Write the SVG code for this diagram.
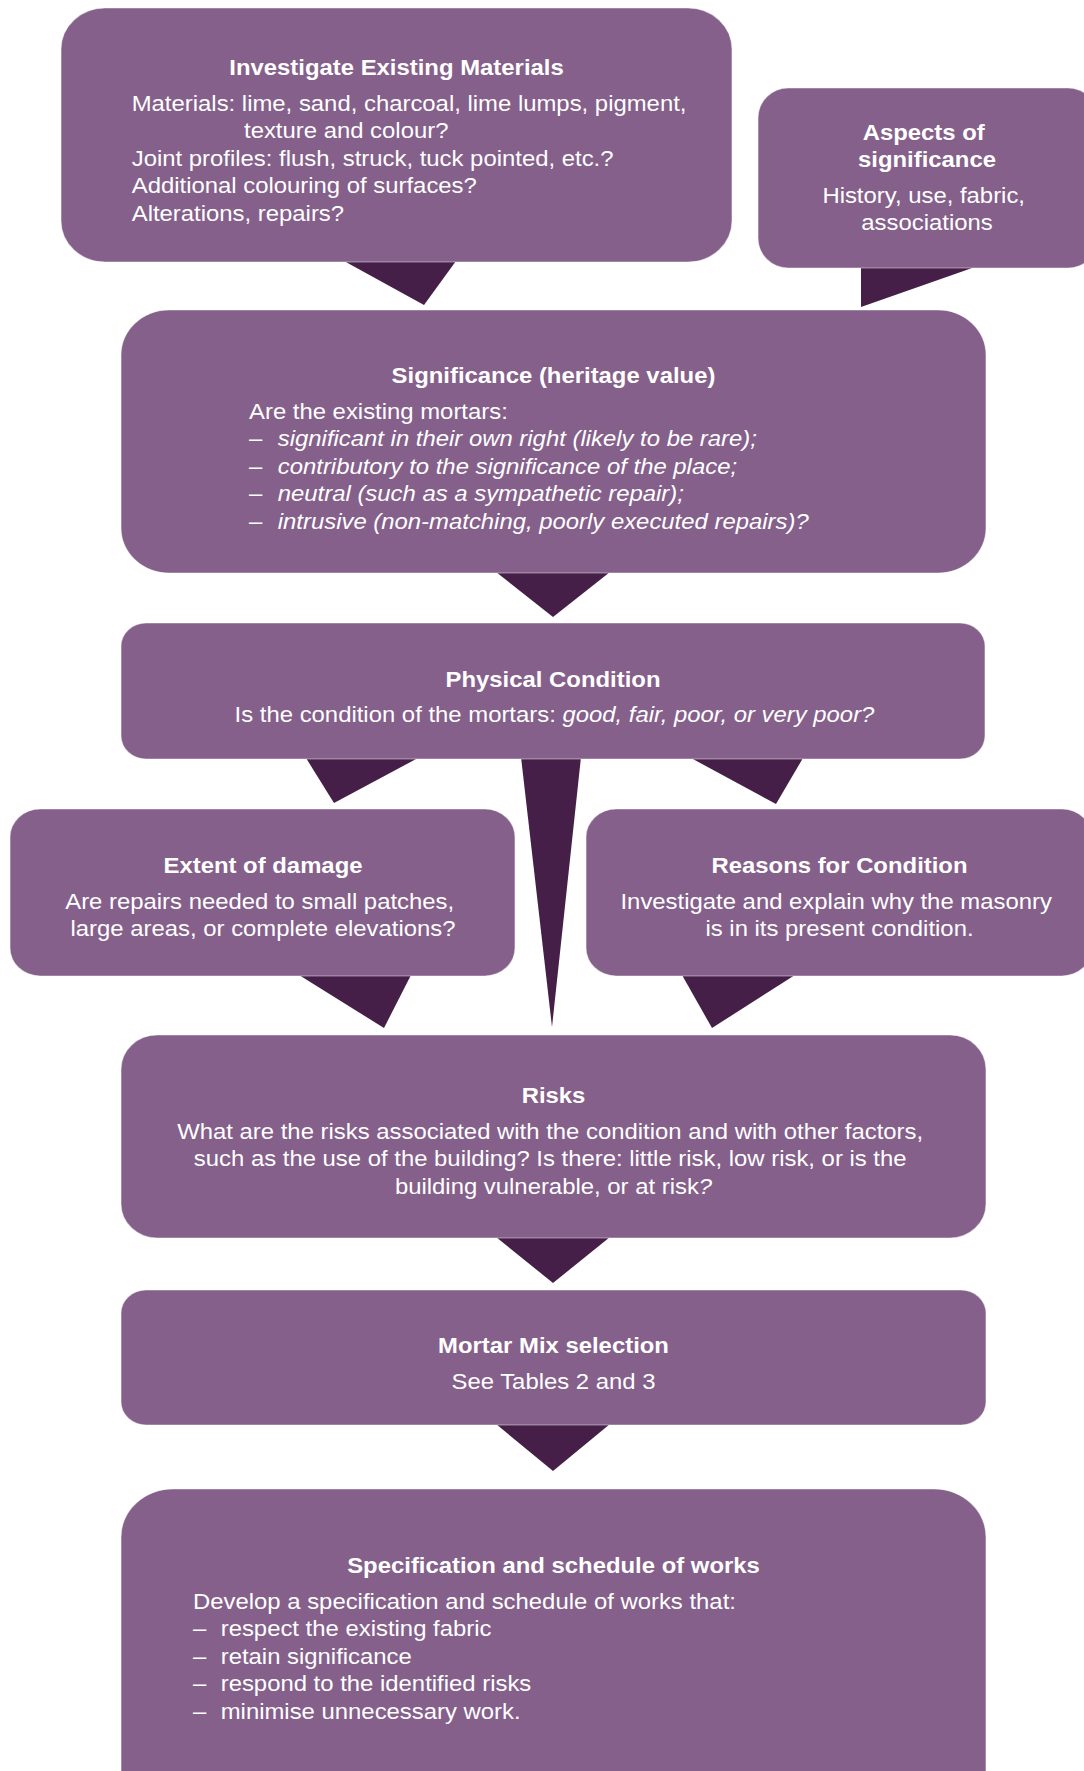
<svg xmlns="http://www.w3.org/2000/svg" width="1084" height="1771" viewBox="0 0 1084 1771">
  <style>
    .box { fill: #85608B; stroke: #ffffff; stroke-opacity: 0.45; stroke-width: 1.2; }
    .ptr { fill: #451F47; }
    text { font-family: "Liberation Sans", Arial, sans-serif; font-size: 22px; fill: #ffffff; }
    .h { font-weight: bold; }
    .c { text-anchor: middle; }
    .i { font-style: italic; }
  </style>
  <rect width="1084" height="1771" fill="#ffffff"/>

  <!-- pointer shapes linking the steps -->
  <g id="connectors">
    <polygon class="ptr" points="344,261 456,261 424,305"/>
    <polygon class="ptr" points="861,267 975,267 861,307"/>
    <polygon class="ptr" points="496,572 610,572 553,617"/>
    <polygon class="ptr" points="306,758 418,758 334,803"/>
    <polygon class="ptr" points="521,757 581,757 552,1027"/>
    <polygon class="ptr" points="691,758 803,758 776,804"/>
    <polygon class="ptr" points="299,975 411,975 384,1028"/>
    <polygon class="ptr" points="682,975 795,975 712,1028"/>
    <polygon class="ptr" points="496,1237 610,1237 553,1283"/>
    <polygon class="ptr" points="496,1424 610,1424 553,1471"/>
  </g>

  <g id="investigate">
    <rect class="box" x="61" y="8" width="671" height="254" rx="44" ry="41"/>
    <text class="h c" transform="translate(396.5,0) scale(1.086,1)"><tspan x="0" y="75.5">Investigate Existing Materials</tspan></text>
    <text transform="translate(131.7,0) scale(1.086,1)">
      <tspan x="0" y="110.7">Materials: lime, sand, charcoal, lime lumps, pigment,</tspan>
      <tspan x="103.4" y="138.2">texture and colour?</tspan>
      <tspan x="0" y="165.7">Joint profiles: flush, struck, tuck pointed, etc.?</tspan>
      <tspan x="0" y="193.2">Additional colouring of surfaces?</tspan>
      <tspan x="0" y="220.7">Alterations, repairs?</tspan>
    </text>
  </g>

  <g id="aspects">
    <rect class="box" x="758" y="88" width="340" height="180" rx="30" ry="30"/>
    <text class="h c" transform="translate(927,0) scale(1.086,1)">
      <tspan x="0" y="140">Aspects of</tspan>
      <tspan x="0" y="167.5">significance</tspan>
    </text>
    <text class="c" transform="translate(927,0) scale(1.086,1)">
      <tspan x="0" y="202.7">History, use, fabric,</tspan>
      <tspan x="0" y="230.2">associations</tspan>
    </text>
  </g>

  <g id="significance">
    <rect class="box" x="121" y="310" width="865" height="263" rx="48" ry="45"/>
    <text class="h c" transform="translate(553.5,0) scale(1.086,1)"><tspan x="0" y="383.5">Significance (heritage value)</tspan></text>
    <text transform="translate(249,0) scale(1.086,1)">
      <tspan x="0" y="418.7">Are the existing mortars:</tspan>
      <tspan x="0" y="446.2">–</tspan><tspan class="i" x="26.5" y="446.2">significant in their own right (likely to be rare);</tspan>
      <tspan x="0" y="473.7">–</tspan><tspan class="i" x="26.5" y="473.7">contributory to the significance of the place;</tspan>
      <tspan x="0" y="501.2">–</tspan><tspan class="i" x="26.5" y="501.2">neutral (such as a sympathetic repair);</tspan>
      <tspan x="0" y="528.7">–</tspan><tspan class="i" x="26.5" y="528.7">intrusive (non-matching, poorly executed repairs)?</tspan>
    </text>
  </g>

  <g id="physical-condition">
    <rect class="box" x="121" y="623" width="864" height="136" rx="25" ry="23"/>
    <text class="h c" transform="translate(553,0) scale(1.086,1)"><tspan x="0" y="687">Physical Condition</tspan></text>
    <text class="c" transform="translate(554.5,0) scale(1.086,1)"><tspan x="0" y="722.2">Is the condition of the mortars: <tspan class="i">good, fair, poor, or very poor?</tspan></tspan></text>
  </g>

  <g id="extent-of-damage">
    <rect class="box" x="10" y="809" width="505" height="167" rx="30" ry="28"/>
    <text class="h c" transform="translate(263,0) scale(1.086,1)"><tspan x="0" y="873.5">Extent of damage</tspan></text>
    <text class="c" transform="translate(263,0) scale(1.086,1)">
      <tspan x="0" y="908.7">Are repairs needed to small patches,</tspan>
      <tspan x="0" y="936.2">large areas, or complete elevations?</tspan>
    </text>
  </g>

  <g id="reasons-for-condition">
    <rect class="box" x="586" y="809" width="506" height="167" rx="30" ry="28"/>
    <text class="h c" transform="translate(839.5,0) scale(1.086,1)"><tspan x="0" y="873.5">Reasons for Condition</tspan></text>
    <text class="c" transform="translate(839.5,0) scale(1.086,1)">
      <tspan x="0" y="908.7">Investigate and explain why the masonry</tspan>
      <tspan x="0" y="936.2">is in its present condition.</tspan>
    </text>
  </g>

  <g id="risks">
    <rect class="box" x="121" y="1035" width="865" height="203" rx="36" ry="34"/>
    <text class="h c" transform="translate(553.5,0) scale(1.086,1)"><tspan x="0" y="1103.5">Risks</tspan></text>
    <text class="c" transform="translate(553.5,0) scale(1.086,1)">
      <tspan x="0" y="1138.7">What are the risks associated with the condition and with other factors,</tspan>
      <tspan x="0" y="1166.2">such as the use of the building? Is there: little risk, low risk, or is the</tspan>
      <tspan x="0" y="1193.7">building vulnerable, or at risk<tspan class="i">?</tspan></tspan>
    </text>
  </g>

  <g id="mortar-mix">
    <rect class="box" x="121" y="1290" width="865" height="135" rx="25" ry="23"/>
    <text class="h c" transform="translate(553.5,0) scale(1.086,1)"><tspan x="0" y="1353.5">Mortar Mix selection</tspan></text>
    <text class="c" transform="translate(553.5,0) scale(1.086,1)"><tspan x="0" y="1388.7">See Tables 2 and 3</tspan></text>
  </g>

  <g id="specification">
    <rect class="box" x="121" y="1489" width="865" height="330" rx="52" ry="48"/>
    <text class="h c" transform="translate(553.5,0) scale(1.086,1)"><tspan x="0" y="1573.5">Specification and schedule of works</tspan></text>
    <text transform="translate(193,0) scale(1.086,1)">
      <tspan x="0" y="1608.7">Develop a specification and schedule of works that:</tspan>
      <tspan x="0" y="1636.2">–</tspan><tspan x="25.5" y="1636.2">respect the existing fabric</tspan>
      <tspan x="0" y="1663.7">–</tspan><tspan x="25.5" y="1663.7">retain significance</tspan>
      <tspan x="0" y="1691.2">–</tspan><tspan x="25.5" y="1691.2">respond to the identified risks</tspan>
      <tspan x="0" y="1718.7">–</tspan><tspan x="25.5" y="1718.7">minimise unnecessary work.</tspan>
    </text>
  </g>
</svg>
